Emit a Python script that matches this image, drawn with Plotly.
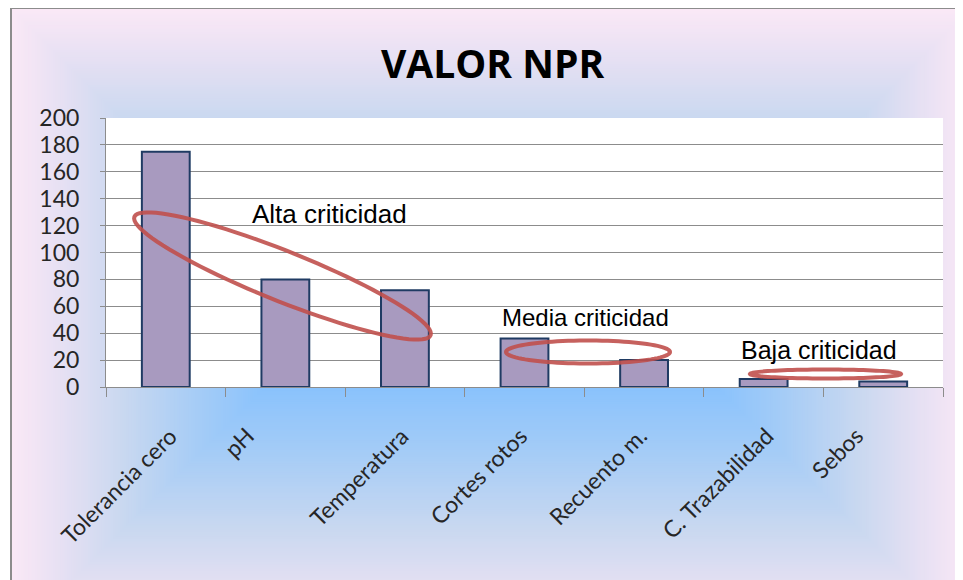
import base64
import numpy as np
import plotly.graph_objects as go

# ---------------- data ----------------
categories = ["Tolerancia cero", "pH", "Temperatura", "Cortes rotos",
              "Recuento m.", "C. Trazabilidad", "Sebos"]
npr_values = [175, 80, 72, 36, 20, 6, 4]
y_ticks = [0, 20, 40, 60, 80, 100, 120, 140, 160, 180, 200]
chart_title = "VALOR NPR"
group_labels = ["Alta criticidad", "Media criticidad", "Baja criticidad"]

# ---------------- geometry helpers (window pixels; page has an 8px body margin) ----------------
OFF = 8
W, H = 963 - OFF, 580 - OFF
ML, MR, MT, MB = 106 - OFF, 20, 118 - OFF, 193
PW, PH = W - ML - MR, H - MT - MB


def px_x(px):
    return (px - OFF - ML) / PW


def px_y(py):
    return (OFF + H - MB - py) / PH


def ellipse_path(cx, cy, a, b, ang_deg, n=90):
    th = np.deg2rad(ang_deg)
    t = np.linspace(0, 2 * np.pi, n, endpoint=False)
    xs = cx + a * np.cos(t) * np.cos(th) - b * np.sin(t) * np.sin(th)
    ys = cy + a * np.cos(t) * np.sin(th) + b * np.sin(t) * np.cos(th)
    pts = [f"{px_x(x):.5f},{px_y(y):.5f}" for x, y in zip(xs, ys)]
    return "M " + " L ".join(pts) + " Z"


# ---------------- background (Excel-like rectangular gradient) ----------------
def hex2rgb(h):
    h = h.lstrip("#")
    return [int(h[i:i + 2], 16) for i in (0, 2, 4)]


ramp = [(0.0, "#FAE8F6"), (0.18, "#E6E0F3"), (0.40, "#C9D8F0"),
        (0.70, "#A2CBF7"), (1.0, "#80BFFF")]


def ramp_color(f):
    for (f0, c0), (f1, c1) in zip(ramp[:-1], ramp[1:]):
        if f <= f1:
            u = (f - f0) / (f1 - f0) if f1 > f0 else 0
            a, b = hex2rgb(c0), hex2rgb(c1)
            return "#%02x%02x%02x" % tuple(int(round(a[k] + (b[k] - a[k]) * u)) for k in range(3))
    return ramp[-1][1]


# gradient rectangle in window pixels -> svg coords (svg covers the figure, origin at OFF)
L_, T_, R_, B_, D_ = 12 - OFF, 9 - OFF, 970 - OFF, 640 - OFF, 275
N = 120
parts = [f'<svg xmlns="http://www.w3.org/2000/svg" width="{W}" height="{H}" '
         f'viewBox="0 0 {W} {H}" preserveAspectRatio="none">',
         f'<rect x="0" y="0" width="{W}" height="{H}" fill="#ffffff"/>']
for i in range(N + 1):
    d = D_ * i / N
    parts.append(f'<rect x="{L_ + d:.2f}" y="{T_ + d:.2f}" width="{R_ - L_ - 2 * d:.2f}" '
                 f'height="{B_ - T_ - 2 * d:.2f}" fill="{ramp_color(i / N)}"/>')
parts.append(f'<rect x="{11 - OFF}" y="{8 - OFF}" width="980" height="700" fill="none" '
             'stroke="#8c8c8c" stroke-width="2"/>')
parts.append("</svg>")
svg_uri = "data:image/svg+xml;base64," + base64.b64encode("".join(parts).encode()).decode()

# ---------------- figure ----------------
fig = go.Figure()
fig.add_trace(go.Bar(
    x=categories, y=npr_values,
    marker=dict(color="#A89ABF", line=dict(color="#1F3B63", width=2)),
    hoverinfo="x+y",
))

grid = "#8C8C8C"
fig.update_layout(
    width=W, height=H,
    margin=dict(l=ML, r=MR, t=MT, b=MB, pad=0),
    paper_bgcolor="#ffffff", plot_bgcolor="#ffffff",
    showlegend=False, bargap=0.6,
    font=dict(family="Lato", size=23, color="#262626"),
    xaxis=dict(type="category", showticklabels=False, ticks="outside",
               tickson="boundaries", ticklen=9, tickcolor=grid,
               showline=True, linecolor=grid, linewidth=1, showgrid=False,
               range=[-0.5, len(categories) - 0.5]),
    yaxis=dict(range=[0, 200], tickvals=y_ticks, ticks="outside", ticklen=5,
               tickcolor=grid, showline=True, linecolor=grid, linewidth=1,
               showgrid=True, gridcolor=grid, gridwidth=1, zeroline=False,
               ticklabelstandoff=16,
               tickfont=dict(family="Lato", size=23, color="#262626")),
    images=[dict(source=svg_uri, xref="paper", yref="paper",
                 x=px_x(OFF), y=px_y(OFF), sizex=W / PW, sizey=H / PH,
                 xanchor="left", yanchor="top", sizing="stretch", layer="below")],
)

shapes = [dict(type="rect", xref="paper", yref="paper", x0=0, x1=1, y0=0, y1=1,
               fillcolor="#ffffff", line=dict(width=0), layer="below")]
ellipses = [(282.5, 276, 159.5, 25, 21.8), (588, 352, 82, 11.5, 0), (825.5, 374, 75.5, 4.5, 0)]
for cx, cy, a, b, ang in ellipses:
    shapes.append(dict(type="path", xref="paper", yref="paper",
                       path=ellipse_path(cx, cy, a, b, ang),
                       line=dict(color="rgba(192,80,77,0.9)", width=4), layer="above"))
fig.update_layout(shapes=shapes)

annotations = [dict(text=chart_title, xref="paper", yref="paper", x=px_x(492), y=px_y(63),
                    xanchor="center", yanchor="middle", showarrow=False,
                    font=dict(family="Open Sans", size=39, color="#000000", weight="bold"))]
for cat in categories:
    annotations.append(dict(text=cat, x=cat, xref="x", yref="paper", y=px_y(419),
                            xanchor="center", yanchor="top", textangle=-45, xshift=-46.5,
                            showarrow=False,
                            font=dict(family="Lato", size=23, color="#262626")))
label_pos = [(329, 214, 26), (585.5, 317, 24), (818.7, 350, 25)]
for txt, (lx, ly, fs) in zip(group_labels, label_pos):
    annotations.append(dict(text=txt, xref="paper", yref="paper", x=px_x(lx), y=px_y(ly),
                            xanchor="center", yanchor="middle", showarrow=False,
                            font=dict(family="Liberation Sans", size=fs, color="#000000")))
fig.update_layout(annotations=annotations)

fig.write_html("out.html")
